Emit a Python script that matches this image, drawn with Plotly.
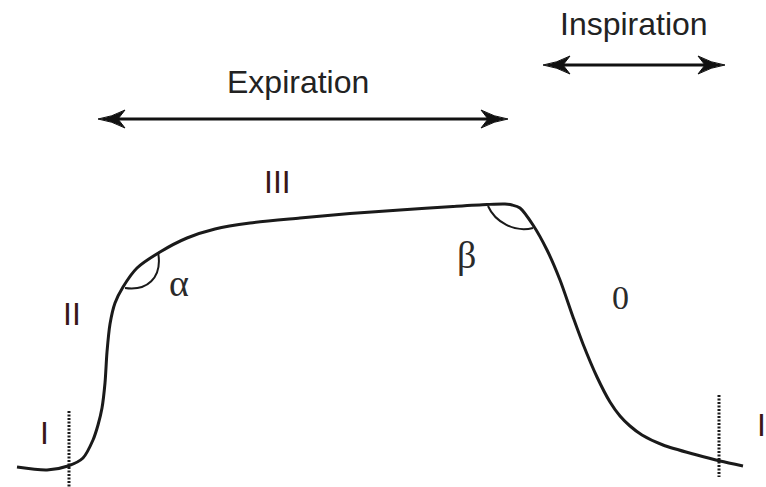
import plotly.graph_objects as go

# Capnogram curve (pixel-space units: x right, y down)
curve_x = [17, 47, 68, 83, 93, 98, 102, 105, 107, 110, 115, 123, 137, 160, 187, 215,
           250, 300, 350, 400, 453, 487, 505, 512, 520, 533, 547, 560, 573, 583, 597, 610,
           620, 630, 642, 663, 697, 720, 743]
curve_y = [467, 470, 466, 458, 440, 425, 408, 383, 352, 324, 303, 287, 268, 252, 238, 229,
           223, 218, 213.5, 210, 206.5, 204.5, 204, 205, 208, 225, 250, 280, 317, 344, 377, 402,
           416, 426, 435, 445, 455, 461, 466]

# Phase boundaries (dotted verticals)
boundary_x = [69, 719]
boundary_top = [411, 395]
boundary_bottom = [487, 477]

# Phase spans (double arrows)
span_labels = ["Expiration", "Inspiration"]
span_start = [98, 543]
span_end = [508, 725]
span_y = [119, 65]
span_label_y = [82, 24]

# Phase labels
phase_labels = ["I", "II", "III", "I"]
phase_x = [44, 72, 277, 761]
phase_y = [433, 314, 182, 425]

# Angle / phase 0 labels
greek_labels = ["α", "β", "0"]
greek_x = [179, 466, 620]
greek_y = [283, 255, 297]
greek_size = [38, 38, 34]

fig = go.Figure()
fig.add_trace(go.Scatter(x=curve_x, y=curve_y, mode="lines",
                         line=dict(color="#1a1a1a", width=3, shape="spline", smoothing=0.8),
                         hoverinfo="skip", showlegend=False))

shapes = []
for bx, bt, bb in zip(boundary_x, boundary_top, boundary_bottom):
    shapes.append(dict(type="line", x0=bx, x1=bx, y0=bt, y1=bb, xref="x", yref="y",
                       line=dict(color="#1a1a1a", width=3, dash="2px,1.5px")))

def head(xt, y, d):
    # d = +1 for head pointing left (tip at xt), -1 pointing right
    L, H, N = 27, 9, 20
    return (f"M {xt},{y} Q {xt + d*14},{y - 2} {xt + d*L},{y - H} "
            f"L {xt + d*N},{y} L {xt + d*L},{y + H} Q {xt + d*14},{y + 2} {xt},{y} Z")

annotations = []
for lab, xs, xe, yy, ly in zip(span_labels, span_start, span_end, span_y, span_label_y):
    shapes.append(dict(type="line", x0=xs + 15, x1=xe - 15, y0=yy, y1=yy, xref="x", yref="y",
                       line=dict(color="#111111", width=3)))
    shapes.append(dict(type="path", path=head(xs, yy, 1), xref="x", yref="y",
                       fillcolor="#111111", line=dict(color="#111111", width=1)))
    shapes.append(dict(type="path", path=head(xe, yy, -1), xref="x", yref="y",
                       fillcolor="#111111", line=dict(color="#111111", width=1)))
    annotations.append(dict(x=(xs + xe) / 2 + (-5 if lab == "Expiration" else 0), y=ly,
                            text=lab, showarrow=False, xref="x", yref="y",
                            font=dict(family="Liberation Sans, Arial", size=32, color="#222222")))

# angle arcs
shapes.append(dict(type="path", path="M 125,288 C 146,291 163,279 158,252", xref="x", yref="y",
                   line=dict(color="#1a1a1a", width=2)))
shapes.append(dict(type="path", path="M 488,206 C 495,222 515,233 533,228", xref="x", yref="y",
                   line=dict(color="#1a1a1a", width=2)))

for t, x, y in zip(phase_labels, phase_x, phase_y):
    annotations.append(dict(x=x, y=y, text=t, showarrow=False, xref="x", yref="y",
                            borderpad=0,
                            font=dict(family="Liberation Sans, Arial", size=32, color="#3a1518")))
for t, x, y, s in zip(greek_labels, greek_x, greek_y, greek_size):
    annotations.append(dict(x=x, y=y, text=t, showarrow=False, xref="x", yref="y",
                            font=dict(family="Liberation Serif, Times New Roman", size=s,
                                      color="#2a2a2a")))

fig.update_layout(width=766, height=487, margin=dict(l=0, r=0, t=0, b=0),
                  paper_bgcolor="white", plot_bgcolor="white",
                  xaxis=dict(range=[0, 766], visible=False, fixedrange=True),
                  yaxis=dict(range=[487, 0], visible=False, fixedrange=True),
                  shapes=shapes, annotations=annotations)
fig.write_html("out.html", config={"displayModeBar": False},
               post_script="document.body.style.margin='0';document.body.style.overflow='hidden';")
